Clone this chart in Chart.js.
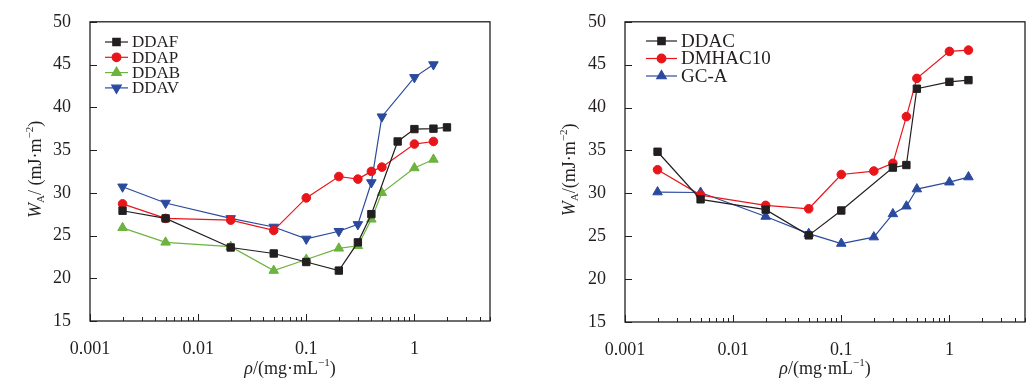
<!DOCTYPE html>
<html>
<head>
<meta charset="utf-8">
<script src="https://cdn.jsdelivr.net/npm/chart.js@4.4.1/dist/chart.umd.min.js"></script>
<style>
  html, body { margin: 0; padding: 0; background: #fff; }
  #wrap { position: relative; width: 1035px; height: 389px; }
  .box { position: absolute; top: 0; height: 389px; }
  #leftBox { left: 0; width: 500px; }
  #rightBox { left: 520px; width: 515px; }
</style>
</head>
<body>
<div id="wrap">
  <div class="box" id="leftBox"><canvas id="leftChart"></canvas></div>
  <div class="box" id="rightBox"><canvas id="rightChart"></canvas></div>
</div>
<script>
// Data
const yTicks = [15, 20, 25, 30, 35, 40, 45, 50];
const xTickLabels = [0.001, 0.01, 0.1, 1];

// left panel
const xDDAF = [0.002, 0.005, 0.02, 0.05, 0.1, 0.2, 0.3, 0.4, 0.7, 1, 1.5, 2];
const yDDAF = [27.9, 27.0, 23.6, 22.9, 21.9, 20.9, 24.2, 27.5, 36.0, 37.45, 37.5, 37.65];
const xLeft = [0.002, 0.005, 0.02, 0.05, 0.1, 0.2, 0.3, 0.4, 0.5, 1, 1.5];
const yDDAP = [28.7, 27.0, 26.8, 25.6, 29.4, 31.9, 31.6, 32.5, 33.0, 35.7, 36.0];
const yDDAB = [25.9, 24.2, 23.7, 20.9, 22.2, 23.5, 23.8, 26.9, 30.0, 32.9, 33.9];
const yDDAV = [30.7, 28.8, 27.0, 26.0, 24.6, 25.5, 26.3, 31.2, 38.9, 43.5, 45.0];

// right panel
const xDDAC = [0.002, 0.005, 0.02, 0.05, 0.1, 0.3, 0.4, 0.5, 1, 1.5];
const yDDAC = [34.85, 29.3, 28.1, 25.1, 28.0, 33.0, 33.3, 42.2, 43.0, 43.2];
const xRight = [0.002, 0.005, 0.02, 0.05, 0.1, 0.2, 0.3, 0.4, 0.5, 1, 1.5];
const yDMHAC10 = [32.75, 29.8, 28.6, 28.2, 32.2, 32.6, 33.5, 38.95, 43.4, 46.55, 46.7];
const yGCA = [30.15, 30.1, 27.3, 25.3, 24.15, 24.9, 27.6, 28.5, 30.5, 31.3, 31.9];

const BLACK = '#231f20';
const RED = '#e8161b';
const GREEN = '#6cb33f';
const BLUE = '#2b4a9e';
const FONT = '"Liberation Serif", "DejaVu Serif", serif';

function pts(xs, ys) {
    return xs.map((x, i) => ({ x: x, y: ys[i] }));
}

function series(label, xs, ys, color, style, rot, r) {
    return {
        label: label,
        data: pts(xs, ys),
        borderColor: color,
        backgroundColor: color,
        borderWidth: 1.2,
        pointStyle: style,
        pointRotation: rot || 0,
        pointRadius: r,
        pointHoverRadius: r,
        pointBorderWidth: 1,
        tension: 0
    };
}

// draw text pieces with sub/superscripts, centered on (0,0)
function drawRich(ctx, parts, size) {
    let total = 0;
    parts.forEach(p => {
        const s = p.sub || p.sup ? size * 0.62 : size;
        ctx.font = (p.italic ? 'italic ' : '') + s + 'px ' + FONT;
        p.w = ctx.measureText(p.t).width;
        p.s = s;
        total += p.w;
    });
    let x = -total / 2;
    ctx.textBaseline = 'middle';
    ctx.textAlign = 'left';
    parts.forEach(p => {
        ctx.font = (p.italic ? 'italic ' : '') + p.s + 'px ' + FONT;
        let dy = 0;
        if (p.sub) dy = size * 0.3;
        if (p.sup) dy = -size * 0.35;
        ctx.fillText(p.t, x, dy);
        x += p.w;
    });
}

const framePlugin = {
    id: 'frame',
    afterDraw(chart, args, opts) {
        const ctx = chart.ctx;
        const a = chart.chartArea;
        const xs = chart.scales.x;
        const ys = chart.scales.y;
        ctx.save();
        ctx.strokeStyle = BLACK;
        ctx.lineWidth = 1.3;
        ctx.strokeRect(a.left, a.top, a.right - a.left, a.bottom - a.top);

        ctx.lineWidth = 1;
        ctx.beginPath();
        // y ticks, inside
        yTicks.forEach(v => {
            const py = Math.round(ys.getPixelForValue(v)) + 0.5;
            ctx.moveTo(a.left, py);
            ctx.lineTo(a.left + 7, py);
        });
        // x ticks, inside: majors at decades, minors at 2..9
        for (let d = 0.001; d < 10; d *= 10) {
            for (let m = 1; m <= 9; m++) {
                const v = d * m;
                if (v < xs.min || v > xs.max) continue;
                const px = Math.round(xs.getPixelForValue(v)) + 0.5;
                const len = m === 1 ? 7 : 4;
                ctx.moveTo(px, a.bottom);
                ctx.lineTo(px, a.bottom - len);
            }
        }
        ctx.stroke();

        // axis titles
        ctx.fillStyle = BLACK;
        ctx.save();
        ctx.translate(opts.yTitleX, (a.top + a.bottom) / 2 - 2);
        ctx.rotate(-Math.PI / 2);
        drawRich(ctx, [
            { t: 'W', italic: true },
            { t: 'A', sub: true },
            { t: opts.yGap ? '/ (mJ·m' : '/(mJ·m' },
            { t: '−2', sup: true },
            { t: ')' }
        ], 18);
        ctx.restore();

        ctx.save();
        ctx.translate((a.left + a.right) / 2, opts.xTitleY);
        drawRich(ctx, [
            { t: 'ρ', italic: true },
            { t: '/(mg·mL' },
            { t: '−1', sup: true },
            { t: ')' }
        ], 18);
        ctx.restore();

        // legend
        const lg = opts.legend;
        chart.data.datasets.forEach((ds, i) => {
            const y = lg.y + i * lg.dy;
            ctx.strokeStyle = ds.borderColor;
            ctx.lineWidth = 1.2;
            ctx.beginPath();
            ctx.moveTo(lg.x, y);
            ctx.lineTo(lg.x + lg.len, y);
            ctx.stroke();
            ctx.fillStyle = ds.backgroundColor;
            ctx.strokeStyle = ds.borderColor;
            Chart.helpers.drawPoint(ctx, {
                pointStyle: ds.pointStyle,
                rotation: ds.pointRotation,
                radius: ds.pointRadius,
                borderWidth: 1
            }, lg.x + lg.len / 2, y);
            ctx.fillStyle = BLACK;
            ctx.font = lg.size + 'px ' + FONT;
            ctx.textAlign = 'left';
            ctx.textBaseline = 'middle';
            ctx.fillText(ds.label, lg.x + lg.len + 4, y + 1);
        });
        ctx.restore();
    }
};

function makeChart(id, datasets, cfg) {
    return new Chart(document.getElementById(id), {
        type: 'line',
        data: { datasets: datasets },
        plugins: [framePlugin],
        options: {
            responsive: true,
            maintainAspectRatio: false,
            animation: false,
            layout: { padding: { top: cfg.top, right: 10, left: 0, bottom: 0 } },
            plugins: {
                legend: { display: false },
                tooltip: { enabled: false },
                frame: cfg.frame
            },
            scales: {
                x: {
                    type: 'logarithmic',
                    min: 0.001,
                    max: 5,
                    grid: { display: false },
                    border: { display: false },
                    afterBuildTicks: s => { s.ticks = xTickLabels.map(v => ({ value: v })); },
                    afterFit: s => { s.height = 389 - cfg.bottom; },
                    ticks: {
                        autoSkip: false,
                        maxRotation: 0,
                        padding: 9,
                        color: BLACK,
                        font: { family: FONT, size: 18 },
                        callback: v => String(v)
                    }
                },
                y: {
                    min: 15,
                    max: 50,
                    grid: { display: false },
                    border: { display: false },
                    afterBuildTicks: s => { s.ticks = yTicks.map(v => ({ value: v })); },
                    afterFit: s => { s.width = cfg.yWidth; },
                    ticks: {
                        padding: 11,
                        color: BLACK,
                        font: { family: FONT, size: 18 }
                    }
                }
            }
        }
    });
}

makeChart('leftChart', [
    series('DDAF', xDDAF, yDDAF, BLACK, 'rect', 0, 5.2),
    series('DDAP', xLeft, yDDAP, RED, 'circle', 0, 4.3),
    series('DDAB', xLeft, yDDAB, GREEN, 'triangle', 0, 5.5),
    series('DDAV', xLeft, yDDAV, BLUE, 'triangle', 180, 5.5)
], {
    top: 20, bottom: 321, yWidth: 90,
    frame: { yTitleX: 36, xTitleY: 369, yGap: true,
             legend: { x: 105, y: 42, dy: 15.3, len: 23, size: 17 } }
});

makeChart('rightChart', [
    series('DDAC', xDDAC, yDDAC, BLACK, 'rect', 0, 5.2),
    series('DMHAC10', xRight, yDMHAC10, RED, 'circle', 0, 4.3),
    series('GC-A', xRight, yGCA, BLUE, 'triangle', 0, 5.5)
], {
    top: 21, bottom: 322, yWidth: 105,
    frame: { yTitleX: 50, xTitleY: 369, yGap: false,
             legend: { x: 126, y: 41, dy: 17.5, len: 31, size: 19 } }
});
</script>
</body>
</html>
